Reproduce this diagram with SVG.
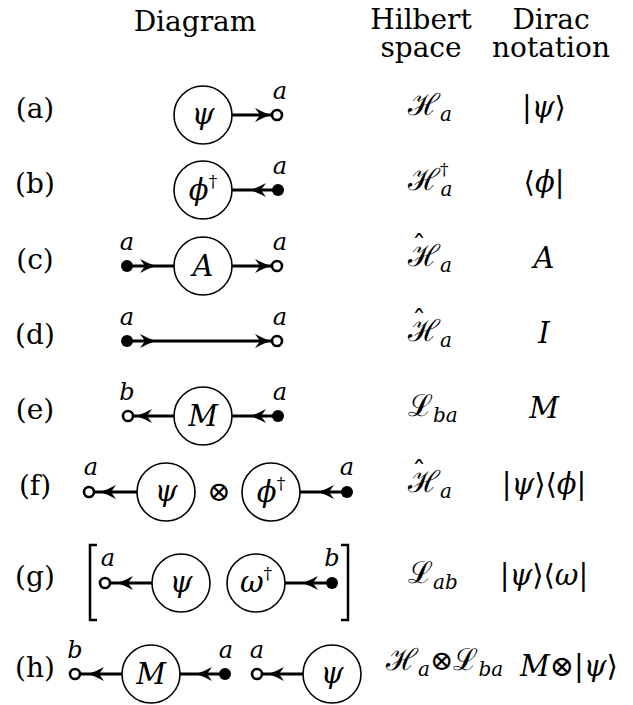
<svg xmlns="http://www.w3.org/2000/svg" xmlns:xlink="http://www.w3.org/1999/xlink" width="633" height="705" viewBox="0 0 633 705">
<style>
text{font-family:"DejaVu Serif","DejaVu Sans",serif;fill:#000}
.t{font-size:28px}
.m{font-size:29px;font-style:italic}
.lb{font-size:24px;font-style:italic;text-anchor:middle}
.c{text-anchor:middle}
.sub{font-family:"DejaVu Serif",serif;font-size:20px;font-style:italic}
.dag{font-family:"DejaVu Serif",serif;font-size:17px;font-style:normal}
.up{font-style:normal}
.sc{font-family:"DejaVu Serif",serif;font-size:28px}
.scr{font-family:"Liberation Serif",serif;font-size:30px}
.node{fill:#fff;stroke:#000;stroke-width:1.6}
.w{stroke:#000;stroke-width:3;fill:none}
.od{fill:#fff;stroke:#000;stroke-width:2.6}
.fd{fill:#000}
.br{fill:none;stroke:#000;stroke-width:2.5}
</style>
<defs>
<path id="ah" d="M0,0 Q-8,-2.5 -16,-7 L-11,0 L-16,7 Q-8,2.5 0,0 Z" fill="#000"/>
</defs>

<g id="headers">
<text class="t c" x="195" y="31">Diagram</text>
<text class="t c" x="421" y="29">Hilbert</text>
<text class="t c" x="421" y="57">space</text>
<text class="t c" x="551" y="29">Dirac</text>
<text class="t c" x="551" y="57">notation</text>
</g>

<g id="row-labels">
<text class="t c" x="35" y="118">(a)</text>
<text class="t c" x="35" y="193">(b)</text>
<text class="t c" x="35" y="269">(c)</text>
<text class="t c" x="35" y="344">(d)</text>
<text class="t c" x="35" y="419">(e)</text>
<text class="t c" x="35" y="495">(f)</text>
<text class="t c" x="35" y="586">(g)</text>
<text class="t c" x="35" y="677">(h)</text>
</g>

<g id="connectors">
<line class="w" x1="232" y1="115" x2="272" y2="115"/>
<use xlink:href="#ah" transform="translate(271,115)"/>
<line class="w" x1="232" y1="190" x2="278" y2="190"/>
<use xlink:href="#ah" transform="translate(250,190) rotate(180)"/>
<line class="w" x1="127" y1="266" x2="174" y2="266"/>
<use xlink:href="#ah" transform="translate(156,266)"/>
<line class="w" x1="232" y1="266" x2="272" y2="266"/>
<use xlink:href="#ah" transform="translate(271,266)"/>
<line class="w" x1="127" y1="341" x2="272" y2="341"/>
<use xlink:href="#ah" transform="translate(156,341)"/>
<use xlink:href="#ah" transform="translate(271,341)"/>
<line class="w" x1="133" y1="416" x2="174" y2="416"/>
<use xlink:href="#ah" transform="translate(136,416) rotate(180)"/>
<line class="w" x1="232" y1="416" x2="278" y2="416"/>
<use xlink:href="#ah" transform="translate(250,416) rotate(180)"/>
<line class="w" x1="95" y1="492" x2="137" y2="492"/>
<use xlink:href="#ah" transform="translate(100,492) rotate(180)"/>
<line class="w" x1="300" y1="492" x2="347" y2="492"/>
<use xlink:href="#ah" transform="translate(318,492) rotate(180)"/>
<line class="w" x1="111" y1="583" x2="152" y2="583"/>
<use xlink:href="#ah" transform="translate(117,583) rotate(180)"/>
<line class="w" x1="285" y1="583" x2="332" y2="583"/>
<use xlink:href="#ah" transform="translate(302,583) rotate(180)"/>
<line class="w" x1="81" y1="674" x2="122" y2="674"/>
<use xlink:href="#ah" transform="translate(88,674) rotate(180)"/>
<line class="w" x1="180" y1="674" x2="225" y2="674"/>
<use xlink:href="#ah" transform="translate(196,674) rotate(180)"/>
<line class="w" x1="263" y1="674" x2="303" y2="674"/>
<use xlink:href="#ah" transform="translate(268,674) rotate(180)"/>
</g>

<g id="row-a">
<circle class="node" cx="203" cy="115" r="29"/>
<text class="m c" x="203" y="124">ψ</text>
<circle class="od" cx="277" cy="115" r="5"/>
<text class="lb" x="280" y="99">a</text>
</g>

<g id="row-b">
<circle class="node" cx="203" cy="190" r="29"/>
<text class="m c" x="203" y="200">ϕ<tspan class="dag" dy="-13">†</tspan></text>
<circle class="fd" cx="278" cy="190" r="6"/>
<text class="lb" x="280" y="174">a</text>
</g>

<g id="row-c">
<circle class="fd" cx="127" cy="266" r="6"/>
<text class="lb" x="127" y="250">a</text>
<circle class="node" cx="203" cy="266" r="29"/>
<text class="m c" x="203" y="276">A</text>
<circle class="od" cx="277" cy="266" r="5"/>
<text class="lb" x="280" y="250">a</text>
</g>

<g id="row-d">
<circle class="fd" cx="127" cy="341" r="6"/>
<text class="lb" x="127" y="325">a</text>
<circle class="od" cx="277" cy="341" r="5"/>
<text class="lb" x="280" y="325">a</text>
</g>

<g id="row-e">
<circle class="od" cx="128" cy="416" r="5"/>
<text class="lb" x="127" y="400">b</text>
<circle class="node" cx="203" cy="416" r="29"/>
<text class="m c" x="203" y="426">M</text>
<circle class="fd" cx="278" cy="416" r="6"/>
<text class="lb" x="280" y="400">a</text>
</g>

<g id="row-f">
<circle class="od" cx="89" cy="492" r="5"/>
<text class="lb" x="91" y="475">a</text>
<circle class="node" cx="166" cy="492" r="29"/>
<text class="m c" x="166" y="501">ψ</text>
<text class="sc c" x="219" y="501">⊗</text>
<circle class="node" cx="271" cy="492" r="29"/>
<text class="m c" x="271" y="502">ϕ<tspan class="dag" dy="-13">†</tspan></text>
<circle class="fd" cx="347" cy="492" r="6"/>
<text class="lb" x="347" y="475">a</text>
</g>

<g id="row-g">
<polyline class="br" points="97,545 90,545 90,620 97,620"/>
<polyline class="br" points="341,545 348,545 348,620 341,620"/>
<circle class="od" cx="105" cy="583" r="5"/>
<text class="lb" x="108" y="566">a</text>
<circle class="node" cx="181" cy="583" r="29"/>
<text class="m c" x="181" y="592">ψ</text>
<circle class="node" cx="256" cy="583" r="29"/>
<text class="m c" x="256" y="592">ω<tspan class="dag" dy="-13">†</tspan></text>
<circle class="fd" cx="332" cy="583" r="6"/>
<text class="lb" x="332" y="566">b</text>
</g>

<g id="row-h">
<circle class="od" cx="75" cy="674" r="5"/>
<text class="lb" x="75" y="658">b</text>
<circle class="node" cx="151" cy="674" r="29"/>
<text class="m c" x="151" y="684">M</text>
<circle class="fd" cx="225" cy="674" r="6"/>
<text class="lb" x="226" y="658">a</text>
<circle class="od" cx="257" cy="674" r="5"/>
<text class="lb" x="257" y="658">a</text>
<circle class="node" cx="332" cy="674" r="29"/>
<text class="m c" x="332" y="683">ψ</text>
</g>

<g id="hilbert-column">
<text class="scr" x="408" y="115">ℋ<tspan class="sub" dy="6">a</tspan></text>
<text class="scr" x="408" y="190">ℋ<tspan class="dag" dy="-15">†</tspan><tspan class="sub" dx="-8" dy="21">a</tspan></text>
<text class="sc c" x="419" y="255">ˆ</text>
<text class="scr" x="408" y="266">ℋ<tspan class="sub" dy="6">a</tspan></text>
<text class="sc c" x="419" y="330">ˆ</text>
<text class="scr" x="408" y="341">ℋ<tspan class="sub" dy="6">a</tspan></text>
<text class="scr" x="408" y="416">ℒ<tspan class="sub" dy="6">ba</tspan></text>
<text class="sc c" x="419" y="481">ˆ</text>
<text class="scr" x="408" y="492">ℋ<tspan class="sub" dy="6">a</tspan></text>
<text class="scr" x="408" y="583">ℒ<tspan class="sub" dy="6">ab</tspan></text>
<text class="scr" x="386" y="670">ℋ<tspan class="sub" dy="6">a</tspan><tspan class="sc" dy="-6">⊗</tspan><tspan class="scr">ℒ</tspan><tspan class="sub" dy="6">ba</tspan></text>
</g>

<g id="dirac-column">
<text class="m c" x="544" y="117"><tspan class="up">|</tspan>ψ<tspan class="up">⟩</tspan></text>
<text class="m c" x="544" y="192"><tspan class="up">⟨</tspan>ϕ<tspan class="up">|</tspan></text>
<text class="m c" x="544" y="268">A</text>
<text class="m c" x="544" y="343">I</text>
<text class="m c" x="544" y="418">M</text>
<text class="m c" x="544" y="494"><tspan class="up">|</tspan>ψ<tspan class="up">⟩⟨</tspan>ϕ<tspan class="up">|</tspan></text>
<text class="m c" x="544" y="585"><tspan class="up">|</tspan>ψ<tspan class="up">⟩⟨</tspan>ω<tspan class="up">|</tspan></text>
<text class="m c" x="569" y="676">M<tspan class="up">⊗|</tspan>ψ<tspan class="up">⟩</tspan></text>
</g>
</svg>
